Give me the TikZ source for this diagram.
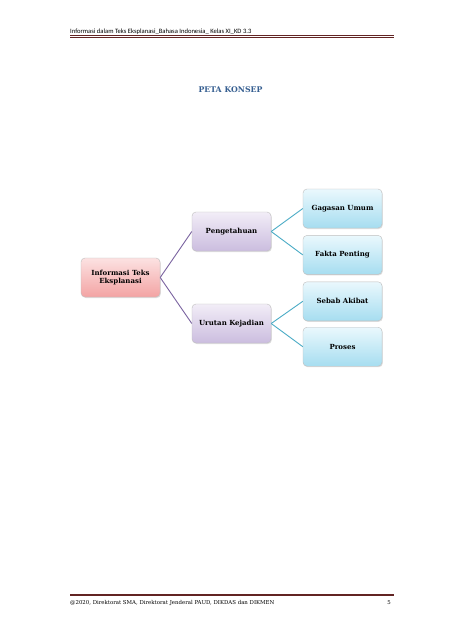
\documentclass[tikz,border=0pt]{standalone}
\usepackage{fontspec}
\setmainfont{DejaVu Serif}
\newfontfamily\headfont{Carlito}
\usepackage{xcolor}
\usepackage{tikz}
\usetikzlibrary{positioning,shadows}

\definecolor{merahtua}{HTML}{622423}
\definecolor{titleblue}{HTML}{365F91}
\definecolor{linkpurple}{HTML}{7A63A0}
\definecolor{linkteal}{HTML}{4BACC6}
\definecolor{akaratas}{HTML}{FCE2E2}
\definecolor{akarbawah}{HTML}{F3A3A3}
\definecolor{cabangatas}{HTML}{F2EDF7}
\definecolor{cabangbawah}{HTML}{CBBDDF}
\definecolor{daunatas}{HTML}{EAF8FD}
\definecolor{daunbawah}{HTML}{A6DDF0}

\tikzset{
  konsep/.style={draw=black!25, line width=0.4pt, rounded corners=4pt,
    minimum width=79pt, minimum height=39pt, align=center,
    font=\fontsize{7}{8.4}\selectfont\bfseries,
    drop shadow={opacity=0.25, shadow xshift=0.8pt, shadow yshift=-1pt}},
  akar/.style={konsep, top color=akaratas, bottom color=akarbawah},
  cabang/.style={konsep, top color=cabangatas, bottom color=cabangbawah},
  daun/.style={konsep, top color=daunatas, bottom color=daunbawah},
  garisungu/.style={linkpurple, line width=0.9pt},
  garistosca/.style={linkteal, line width=0.9pt},
}

\begin{document}
\begin{tikzpicture}[x=1pt, y=-1pt]
\useasboundingbox[fill=white] (0,0) rectangle (452,640);

% header dan footer halaman
\node[anchor=base west, inner sep=0pt, font=\headfont\fontsize{6.6}{8}\selectfont] (judulatas) at (70,33)
  {Informasi dalam Teks Eksplanasi\_Bahasa Indonesia\_ Kelas XI\_KD 3.3};
\draw[merahtua, line width=1.6pt] (70,35.6) -- (394,35.6);
\draw[merahtua, line width=0.4pt] (70,37.4) -- (394,37.4);
\draw[merahtua, line width=1.8pt] (70,595.3) -- (394,595.3);
\node[anchor=base west, inner sep=0pt, font=\fontsize{5.4}{6}\selectfont] (kaki) at (70,604)
  {@2020, Direktorat SMA, Direktorat Jenderal PAUD, DIKDAS dan DIKMEN};
\node[anchor=base east, inner sep=0pt, font=\fontsize{5.4}{6}\selectfont] (halaman) at (391,604) {5};

% judul
\node[titleblue, font=\fontsize{7.8}{9}\selectfont\bfseries] (judul) at (230.5,90) {PETA KONSEP};

% peta konsep
\node[akar] (info) at (120.5,277.5) {Informasi Teks\\Eksplanasi};
\node[cabang] (tahu) at (231.5,231.5) {Pengetahuan};
\node[cabang] (urutan) at (231.5,323.5) {Urutan Kejadian};
\node[daun] (gagasan) at (342.5,208.5) {Gagasan Umum};
\node[daun, below=7pt of gagasan] (fakta) {Fakta Penting};
\node[daun, below=7pt of fakta] (sebab) {Sebab Akibat};
\node[daun, below=6pt of sebab] (proses) {Proses};

\draw[garisungu] (info.east) -- (tahu.west);
\draw[garisungu] (info.east) -- (urutan.west);
\draw[garistosca] (tahu.east) -- (gagasan.west);
\draw[garistosca] (tahu.east) -- (fakta.west);
\draw[garistosca] (urutan.east) -- (sebab.west);
\draw[garistosca] (urutan.east) -- (proses.west);
\end{tikzpicture}
\end{document}
